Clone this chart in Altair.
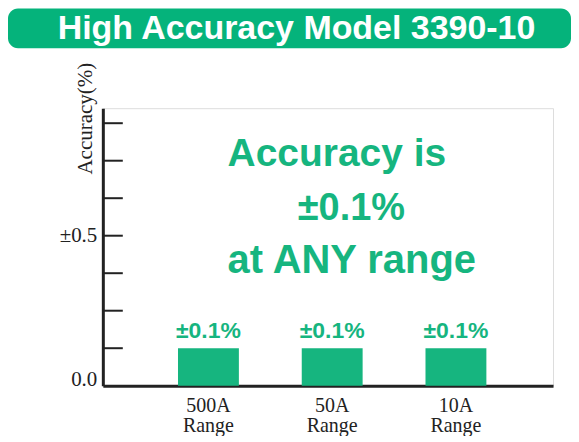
import altair as alt
import pandas as pd

# ---- data ----
ranges = ["500A Range", "50A Range", "10A Range"]
bar_heights = [0.125, 0.125, 0.125]          # bar height as drawn against the y axis
bar_labels = ["±0.1%", "±0.1%", "±0.1%"]
tick_values = [0.125, 0.25, 0.375, 0.5, 0.625, 0.75, 0.875]
label_values = [0, 0.5]
title_text = "High Accuracy Model 3390-10"
note_lines = ["Accuracy is", "±0.1%", "at ANY range"]

GREEN = "#16b57f"
TITLE_GREEN = "#05b37b"
DARK = "#222222"
SANS = "Liberation Sans"
SERIF = "Liberation Serif"

bars_df = pd.DataFrame({"range": ranges, "value": bar_heights, "label": bar_labels})
ticks_df = pd.DataFrame({"value": tick_values})
one = pd.DataFrame({"t": [title_text]})

x_enc = alt.X(
    "range:N",
    sort=None,
    scale=alt.Scale(paddingInner=0.508, paddingOuter=0.573, align=0.53),
    axis=alt.Axis(
        title=None, ticks=False, labelAngle=0, domain=True, domainWidth=3,
        domainColor=DARK, labelFont=SERIF, labelFontSize=20, labelColor=DARK,
        labelPadding=10, labelBaseline="top", labelLineHeight=20,
        labelExpr="split(datum.label, ' ')",
    ),
)
y_enc = alt.Y(
    "value:Q",
    scale=alt.Scale(domain=[0, 0.925], nice=False, zero=True),
    axis=alt.Axis(
        values=label_values, ticks=False, grid=False, domain=True, domainWidth=3,
        domainColor=DARK, labelExpr="datum.value == 0 ? '0.0' : '±0.5'",
        labelFont=SERIF, labelFontSize=21, labelColor=DARK, labelPadding=6,
        labelBaseline={"condition": {"test": "datum.value == 0", "value": "alphabetic"}, "value": "middle"},
        title="Accuracy(%)", titleFont=SERIF, titleFontSize=21,
        titleFontWeight="normal", titleColor=DARK, titleAngle=270, titleX=-17,
        titleY=10, titleAlign="center", titleBaseline="middle",
    ),
)

bars = alt.Chart(bars_df).mark_bar(color=GREEN).encode(x=x_enc, y=y_enc)
bar_text = alt.Chart(bars_df).mark_text(
    dy=-10, baseline="alphabetic", font=SANS, fontWeight="bold", fontSize=23, color=GREEN
).encode(x=alt.X("range:N", sort=None), y=alt.Y("value:Q"), text="label:N")

tick_rules = alt.Chart(ticks_df).mark_rule(color=DARK, strokeWidth=2).encode(
    y=alt.Y("value:Q"), x=alt.value(0), x2=alt.value(20)
)

title_bar = alt.Chart(one).mark_rect(color=TITLE_GREEN, cornerRadius=10).encode(
    x=alt.value(-95), x2=alt.value(469), y=alt.value(-100), y2=alt.value(-60)
)
title_txt = alt.Chart(one).mark_text(
    font=SANS, fontWeight="bold", fontSize=34, color="white", align="center", baseline="middle"
).encode(x=alt.value(194), y=alt.value(-79), text="t:N")

note1 = alt.Chart(pd.DataFrame({"t": [note_lines[0]]})).mark_text(
    font=SANS, fontWeight="bold", fontSize=39, color=GREEN, align="left", baseline="alphabetic"
).encode(x=alt.value(125), y=alt.value(58), text="t:N")
note2 = alt.Chart(pd.DataFrame({"t": [note_lines[1]]})).mark_text(
    font=SANS, fontWeight="bold", fontSize=38, color=GREEN, align="center", baseline="alphabetic"
).encode(x=alt.value(249), y=alt.value(112), text="t:N")
note3 = alt.Chart(pd.DataFrame({"t": [note_lines[2]]})).mark_text(
    font=SANS, fontWeight="bold", fontSize=40, color=GREEN, align="left", baseline="alphabetic"
).encode(x=alt.value(125), y=alt.value(165), text="t:N")

chart = (
    alt.layer(bars, bar_text, tick_rules, title_bar, title_txt, note1, note2, note3)
    .properties(
        width=451, height=278,
        autosize=alt.AutoSizeParams(type="none"),
        padding={"left": 95, "top": 100, "right": 18, "bottom": 50},
    )
    .configure_view(stroke=None)
    .configure(background="white")
)

chart.save("out.html", embed_options={"renderer": "svg", "actions": False})
